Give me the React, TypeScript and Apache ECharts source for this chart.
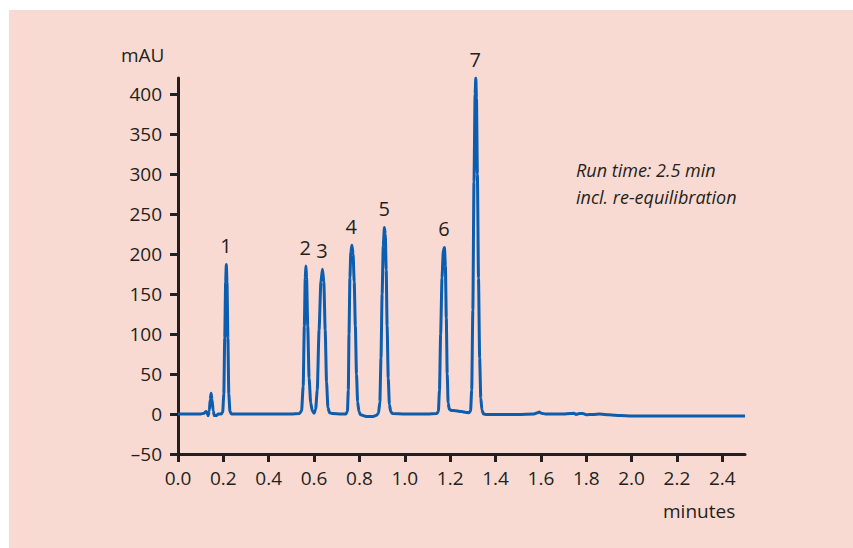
import React, { useEffect, useRef } from "react";
import * as echarts from "echarts";

// Chromatogram trace: [time (min), absorbance (mAU)]
const segStart = [[0, 0], [0.05, 0], [0.1, 0], [0.115, 1], [0.124, 3], [0.128, 2], [0.133, -2]];
const segImpurity = [[0.138, 4], [0.142, 18], [0.146, 26], [0.15, 18], [0.155, 4], [0.16, -2], [0.168, -2], [0.178, 0], [0.19, 0]];
const segPeak1 = [[0.197, 2], [0.202, 25], [0.206, 95], [0.21, 165], [0.213, 187], [0.216, 165], [0.22, 95], [0.224, 25], [0.229, 3], [0.236, 0], [0.3, 0], [0.4, 0], [0.5, 0], [0.535, 0.5]];
const segPeaks23 = [[0.545, 4], [0.552, 35], [0.557, 110], [0.561, 170], [0.564, 185], [0.567, 170], [0.572, 110], [0.578, 45], [0.585, 14], [0.592, 4], [0.6, 1], [0.607, 6], [0.614, 30], [0.622, 105], [0.63, 165], [0.637, 181], [0.643, 165], [0.649, 105], [0.655, 40], [0.661, 8], [0.668, 1.5], [0.68, 0.5], [0.72, 0]];
const segPeak4 = [[0.74, 0], [0.747, 3], [0.751, 30], [0.754, 100], [0.758, 170], [0.762, 203], [0.767, 211], [0.772, 200], [0.777, 165], [0.782, 110], [0.787, 50], [0.792, 15], [0.798, 3], [0.805, -1], [0.83, -3], [0.86, -3], [0.876, -1.5]];
const segPeak5 = [[0.884, 1], [0.89, 15], [0.895, 70], [0.9, 150], [0.905, 210], [0.91, 233], [0.914, 225], [0.918, 180], [0.922, 110], [0.927, 45], [0.932, 12], [0.938, 3], [0.946, 0.5], [1.0, 0], [1.1, 0], [1.14, 0.5]];
const segPeak6 = [[1.148, 3], [1.153, 30], [1.158, 100], [1.164, 170], [1.17, 205], [1.175, 208], [1.179, 185], [1.183, 120], [1.187, 50], [1.191, 14], [1.196, 6], [1.205, 4.5], [1.225, 4], [1.25, 3], [1.27, 2], [1.283, 1.5], [1.29, 4]];
const segPeak7 = [[1.295, 30], [1.3, 130], [1.305, 290], [1.31, 400], [1.313, 420], [1.316, 395], [1.32, 300], [1.325, 170], [1.33, 70], [1.335, 20], [1.34, 5], [1.347, 0], [1.36, -0.5]];
const segTail = [[1.4, -0.5], [1.5, -0.5], [1.57, 0], [1.585, 1.5], [1.593, 2.5], [1.602, 1], [1.62, 0], [1.7, 0], [1.73, 0.5], [1.745, 1], [1.755, -0.5], [1.77, 0.5], [1.785, 0.5], [1.8, -1], [1.83, -0.5], [1.86, 0], [1.9, -1], [1.95, -2], [2.0, -2.5], [2.1, -2.5], [2.3, -2.5], [2.5, -2.5]];

// Peak labels
const peakNames = ["1", "2", "3", "4", "5", "6", "7"];
const peakTimes = [0.211, 0.561, 0.635, 0.764, 0.909, 1.173, 1.31];
const peakHeights = [187, 185, 181, 211, 233, 208, 420];

// Axis ticks
const xTicks = [0, 0.2, 0.4, 0.6, 0.8, 1.0, 1.2, 1.4, 1.6, 1.8, 2.0, 2.2, 2.4];
const yTicks = [-50, 0, 50, 100, 150, 200, 250, 300, 350, 400];

const noteLines = ["Run time: 2.5 min", "incl. re-equilibration"];

const INK = "#231f20";
const BLUE = "#0b5daf";
const FONT = "Open Sans";

export default function App() {
  const ref = useRef<HTMLDivElement>(null);
  useEffect(() => {
    if (!ref.current) return;
    const chart = echarts.init(ref.current, null, { renderer: "svg" });
    const trace = [
      ...segStart, ...segImpurity, ...segPeak1, ...segPeaks23, ...segPeak4,
      ...segPeak5, ...segPeak6, ...segPeak7, ...segTail,
    ];
    chart.setOption({
      animation: false,
      backgroundColor: "#f8dad2",
      grid: { left: 169, top: 68, right: 108, bottom: 94 },
      xAxis: {
        type: "value",
        min: 0,
        max: 2.5,
        axisLine: { onZero: false, lineStyle: { color: INK, width: 3 } },
        axisTick: { customValues: xTicks, length: 8, lineStyle: { color: INK, width: 3 } },
        axisLabel: {
          customValues: xTicks,
          margin: 14,
          color: INK,
          fontFamily: FONT,
          fontSize: 19,
          formatter: (v: number) => v.toFixed(1),
        },
        splitLine: { show: false },
      },
      yAxis: {
        type: "value",
        min: -50,
        max: 420,
        axisLine: { show: true, lineStyle: { color: INK, width: 3 } },
        axisTick: { show: true, customValues: yTicks, length: 8, lineStyle: { color: INK, width: 3 } },
        axisLabel: {
          customValues: yTicks,
          margin: 16,
          color: INK,
          fontFamily: FONT,
          fontSize: 19,
          formatter: (v: number) => String(v).replace("-", "\u2013"),
        },
        splitLine: { show: false },
      },
      graphic: [
        {
          type: "text",
          left: 112,
          top: 35,
          style: { text: "mAU", fill: INK, font: `19px "${FONT}"` },
        },
        {
          type: "text",
          left: 654,
          top: 491,
          style: { text: "minutes", fill: INK, font: `19px "${FONT}"` },
        },
        {
          type: "text",
          left: 567,
          top: 146,
          style: {
            text: noteLines.join("\n"),
            fill: INK,
            font: `italic 18px "${FONT}"`,
            lineHeight: 27,
          },
        },
      ],
      series: [
        {
          type: "line",
          data: trace,
          showSymbol: false,
          smooth: 0.2,
          smoothMonotone: "x",
          lineStyle: { color: BLUE, width: 3 },
          z: 3,
        },
        {
          type: "scatter",
          symbolSize: 0,
          data: peakNames.map((n, i) => ({ name: n, value: [peakTimes[i], peakHeights[i]] })),
          label: {
            show: true,
            position: "top",
            distance: 9,
            formatter: (p: any) => p.name,
            color: INK,
            fontFamily: FONT,
            fontSize: 20,
          },
          itemStyle: { opacity: 1 },
          z: 4,
        },
      ],
    });
    return () => chart.dispose();
  }, []);
  return (
    <div style={{ position: "absolute", left: 0, top: 0, width: 853, height: 548, background: "#fff" }}>
      <div ref={ref} style={{ position: "absolute", left: 9, top: 10, width: 844, height: 538 }} />
    </div>
  );
}
